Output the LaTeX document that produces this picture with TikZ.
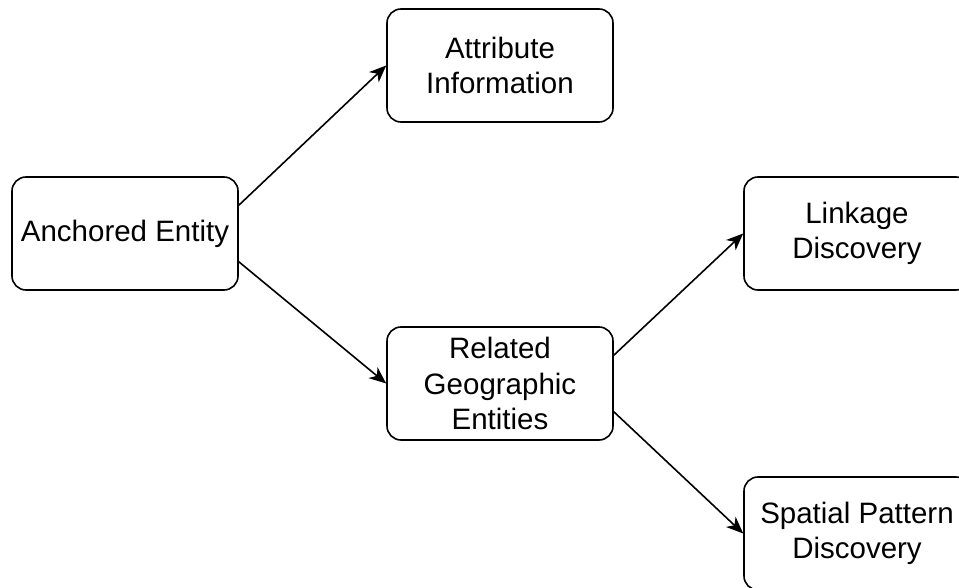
\documentclass[tikz,border=0pt]{standalone}
\usepackage{fontspec}
\setmainfont{Liberation Sans}
\usetikzlibrary{arrows.meta}

\tikzset{
  box/.style={draw, line width=1.6pt, rounded corners=14pt,
    minimum width=226pt, minimum height=113pt, inner sep=0pt,
    align=center, font=\fontsize{29.5pt}{35.5pt}\selectfont},
  arr/.style={line width=1.6pt,
    -{Stealth[length=17pt,width=14pt,inset=5pt]}}
}

\begin{document}
\begin{tikzpicture}[x=1pt,y=-1pt]
  \useasboundingbox (0,0) rectangle (959,588);

  \node[box] (anchor)  at (125,233.5) {Anchored Entity};
  \node[box] (attr)    at (500,65.5)  {Attribute\\Information};
  \node[box] (related) at (500,383.5) {Related\\Geographic\\Entities};
  \node[box] (link)    at (857,233.5) {Linkage\\Discovery};
  \node[box] (spatial) at (857,533.5) {Spatial Pattern\\Discovery};

  \draw[arr] ([yshift=28.25pt]anchor.east)  -- (attr.west);
  \draw[arr] ([yshift=-28.25pt]anchor.east) -- (related.west);
  \draw[arr] ([yshift=28.25pt]related.east)  -- (link.west);
  \draw[arr] ([yshift=-28.25pt]related.east) -- (spatial.west);
\end{tikzpicture}
\end{document}
